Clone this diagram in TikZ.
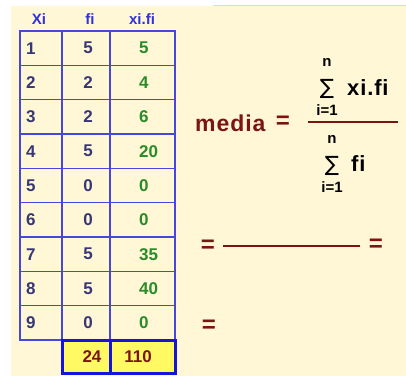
\documentclass[tikz,border=0pt]{standalone}
\usepackage{fontspec}
\setmainfont{Liberation Sans}
\newfontfamily\symfont{DejaVu Sans}
\definecolor{cream}{RGB}{255,247,214}
\definecolor{gridblue}{RGB}{70,70,225}
\definecolor{boxblue}{RGB}{20,20,220}
\definecolor{hdrblue}{RGB}{50,50,220}
\definecolor{numnavy}{RGB}{55,55,120}
\definecolor{numgreen}{RGB}{40,140,40}
\definecolor{darkred}{RGB}{125,20,20}
\definecolor{totyellow}{RGB}{255,250,100}
\definecolor{edgeblue}{RGB}{205,222,240}
\begin{document}
\begin{tikzpicture}[x=1pt,y=-1pt,
  hdr/.style={font=\fontsize{15}{15}\selectfont\bfseries, text=hdrblue, inner sep=0pt},
  cella/.style={font=\fontsize{17}{17}\selectfont\bfseries, text=numnavy, inner sep=0pt, anchor=west},
  cellb/.style={font=\fontsize{17}{17}\selectfont\bfseries, text=numnavy, inner sep=0pt},
  cellc/.style={font=\fontsize{17}{17}\selectfont\bfseries, text=numgreen, inner sep=0pt, anchor=west},
  tot/.style={font=\fontsize{17}{17}\selectfont\bfseries, text=darkred, inner sep=0pt},
  grid/.style={draw=gridblue, line width=1.6pt},
  fm/.style={font=\fontsize{22}{22}\selectfont\bfseries\addfontfeature{LetterSpace=4}, inner sep=0pt},
  sm/.style={font=\fontsize{15}{15}\selectfont\bfseries, inner sep=0pt},
  sig/.style={inner sep=0pt, font=\symfont\fontsize{21}{21}\selectfont},
  eqs/.style={text=darkred, inner sep=0pt, font=\fontsize{24}{24}\selectfont\bfseries},
  rule/.style={draw=darkred, line width=1.4pt}]
\useasboundingbox (0,0) rectangle (406,376);
\fill[white] (0,0) rectangle (406,376);
\fill[cream] (11,6) rectangle (406,376);
\fill[edgeblue] (213,4.5) rectangle (406,6);
% headers
\node[hdr] (hx) at (39,19) {Xi};
\node[hdr] (hf) at (90,19) {fi};
\node[hdr] (hxf) at (142,19) {xi.fi};
% table grid
\draw[grid] (20,31) rectangle (175,340);
\foreach \k in {1,...,8} \draw[grid] (20,{31+\k*34.33}) -- (175,{31+\k*34.33});
\draw[grid] (62,31) -- (62,340);
\draw[grid] (110,31) -- (110,340);
% rows
\foreach \a/\b/\c [count=\k from 0] in {1/5/5,2/2/4,3/2/6,4/5/20,5/0/0,6/0/0,7/5/35,8/5/40,9/0/0}{
  \node[cella] (a\a) at (26,{48.2+\k*34.33}) {\a};
  \node[cellb] (b\a) at (88,{48.2+\k*34.33}) {\b};
  \node[cellc] (c\a) at (139,{48.2+\k*34.33}) {\c};
}
% totals
\draw[draw=boxblue, fill=totyellow, line width=3pt] (62,340) rectangle (175,373);
\draw[draw=boxblue, line width=3pt] (110,340) -- (110,373);
\node[tot] (t1) at (92,357) {24};
\node[tot] (t2) at (138,357) {110};
% formula
\node[text=darkred, inner sep=0pt, font=\fontsize{23}{23}\selectfont\bfseries\addfontfeature{LetterSpace=4}, anchor=west] (media) at (195,123) {media};
\node[eqs] (eq1) at (283,122) {=};
\draw[rule] (308,122) -- (398,122);
\node[sm] (n1) at (327,62) {n};
\node[sig] (s1) at (327,89) {∑};
\node[fm, anchor=west] (num) at (347,88) {xi.fi};
\node[sm] (i1) at (327,110) {i=1};
\node[sm] (n2) at (332,139) {n};
\node[sig] (s2) at (332,166) {∑};
\node[fm, anchor=west] (den) at (351,164) {fi};
\node[sm] (i2) at (332,187) {i=1};
% second line
\node[eqs] (eq2) at (208,246) {=};
\draw[rule] (223,246) -- (360,246);
\node[eqs] (eq3) at (376,245) {=};
% third line
\node[eqs] (eq4) at (209,326) {=};
\end{tikzpicture}
\end{document}
